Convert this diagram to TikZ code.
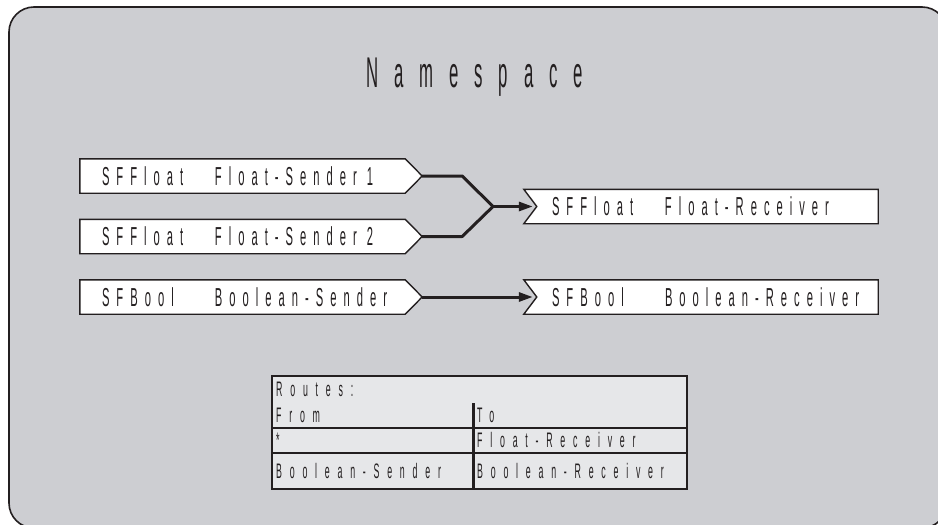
\documentclass[tikz,border=0pt]{standalone}
\usepackage{fontspec}
\setmainfont{Liberation Sans}
\newfontfamily\titlefont[FakeStretch=0.39,LetterSpace=37]{Liberation Sans}
\newfontfamily\labelfont[FakeStretch=0.43,LetterSpace=27]{Liberation Sans}
\newfontfamily\tablefont[FakeStretch=0.42,LetterSpace=37]{Liberation Sans}
\usetikzlibrary{arrows.meta,backgrounds}
\definecolor{panel}{RGB}{205,206,210}
\definecolor{cellfill}{RGB}{230,231,233}
\definecolor{ink}{RGB}{35,31,32}
% a field label: type column, then field name, on one line
\newcommand{\fieldlabel}[3]{\makebox[#1][l]{\makebox[113pt][l]{#2}#3}}

\begin{document}
\begin{tikzpicture}[x=1pt,y=-1pt,
  port/.style={minimum height=34pt, inner ysep=0pt, text=ink,
    font=\labelfont\fontsize{26}{26}\selectfont},
  sendbox/.style={port, minimum width=325pt, inner xsep=22pt},
  recvbox/.style={port, minimum width=354pt, inner xsep=28pt},
  outline/.style={draw=ink, line width=1.4pt, fill=white, line join=miter},
  wire/.style={draw=ink, line width=3pt, line join=round},
  tip/.style={-{Triangle[length=14pt,width=9pt]}, shorten >=4pt},
  cell/.style={font=\tablefont\fontsize{21}{21}\selectfont, text=ink,
    anchor=base west, inner sep=0pt},
  rule/.style={draw=ink},
]
\useasboundingbox (0,0) rectangle (938,525);

% title
\node[anchor=base west, inner sep=0pt, text=ink,
  font=\titlefont\fontsize{43}{43}\selectfont] (title) at (366,87) {Namespace};

% event outputs (senders)
\node[sendbox] (s1) at (242.5,176)   {\fieldlabel{281pt}{SFFloat}{Float-Sender\hspace{10pt}1}};
\node[sendbox] (s2) at (242.5,236.5) {\fieldlabel{281pt}{SFFloat}{Float-Sender\hspace{10pt}2}};
\node[sendbox] (sb) at (242.5,297)   {\fieldlabel{281pt}{SFBool}{Boolean-Sender}};

% event inputs (receivers)
\node[recvbox] (r1) at (701,206.5) {\fieldlabel{298pt}{SFFloat}{Float-Receiver}};
\node[recvbox] (rb) at (701,297)   {\fieldlabel{298pt}{SFBool}{Boolean-Receiver}};

\begin{scope}[on background layer]
  \clip (0,0) rectangle (938,525);
  \path[draw=ink, line width=1.6pt, fill=panel, rounded corners=25pt]
    (9,7) rectangle (947,528);
  \foreach \n in {s1,s2,sb}
    \path[outline] (\n.north west) -- (\n.north east) -- ([xshift=17pt]\n.east)
      -- (\n.south east) -- (\n.south west) -- cycle;
  \foreach \n in {r1,rb}
    \path[outline] (\n.north west) -- (\n.north east) -- (\n.south east)
      -- (\n.south west) -- ([xshift=13pt]\n.west) -- cycle;
\end{scope}

% routes
\coordinate (join) at (493,206.5);
\draw[wire] ([xshift=17pt]s1.east) -- ++(40,0) -- (join);
\draw[wire] ([xshift=17pt]s2.east) -- ++(40,0) -- (join);
\draw[wire, tip] (join) -- ([xshift=13pt]r1.west);
\draw[wire, tip] ([xshift=17pt]sb.east) -- ([xshift=13pt]rb.west);

% route table
\node[draw=ink, line width=2pt, fill=cellfill, minimum width=415pt,
  minimum height=113pt, inner sep=0pt] (routes) at (479.5,432.5) {};
\draw[rule, line width=2.6pt] (272,428) -- (687,428);
\draw[rule, line width=1.4pt] (272,453) -- (687,453);
\draw[rule, line width=3pt] (473,403) -- (473,489);
\node[cell] (hdr)   at (276,396) {Routes:};
\node[cell] (from)  at (276,422) {From};
\node[cell] (to)    at (477,422) {To};
\node[cell] (any)   at (276,447) {*};
\node[cell] (dst1)  at (477,447) {Float-Receiver};
\node[cell] (src2)  at (276,478) {Boolean-Sender};
\node[cell] (dst2)  at (477,478) {Boolean-Receiver};
\end{tikzpicture}
\end{document}
